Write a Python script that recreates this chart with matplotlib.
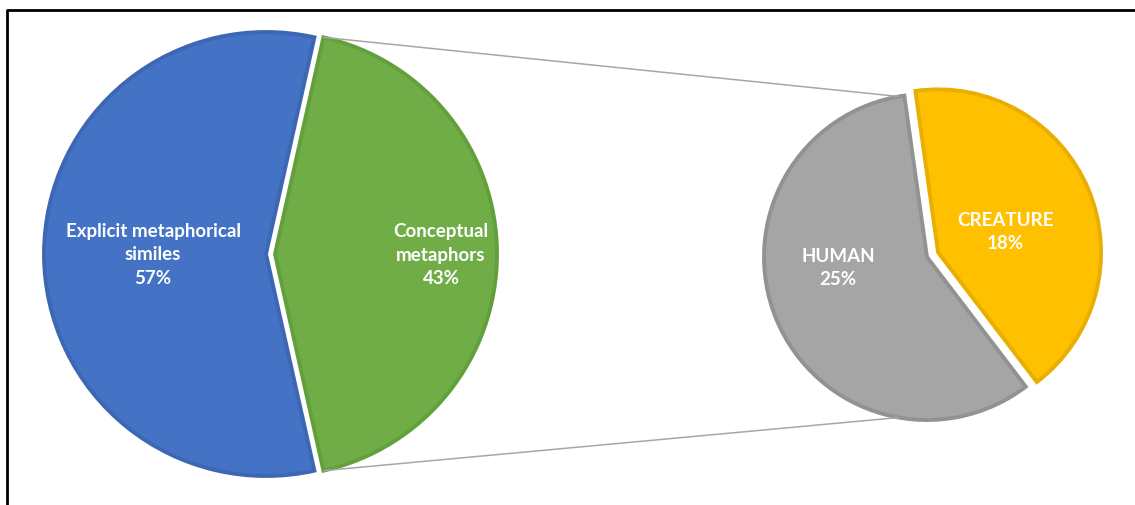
import numpy as np
import matplotlib.pyplot as plt
from matplotlib.patches import ConnectionPatch

# main pie
main_labels = ["Explicit metaphorical\nsimiles", "Conceptual\nmetaphors"]
main_values = [57, 43]
main_colors = ["#4472C4", "#70AD47"]
main_edges = ["#3D67B3", "#62A03B"]

# breakdown of "Conceptual metaphors"
sub_labels = ["HUMAN", "CREATURE"]
sub_values = [25, 18]
sub_colors = ["#A5A5A5", "#FFC000"]
sub_edges = ["#929292", "#E8AE00"]

W, H = 1135, 506
fig = plt.figure(figsize=(W / 100, H / 100), dpi=100)
ax = fig.add_axes([0, 0, 1, 1])

# left pie, green wedge pulled out to the right (explode is in data units here)
start = 180 * main_values[1] / sum(main_values)
w_main, _ = ax.pie(main_values, colors=main_colors, center=(266, 251), radius=222,
                   startangle=start, explode=[0, 9],
                   wedgeprops=dict(linewidth=2.8))
for w, ec in zip(w_main, main_edges):
    w.set_edgecolor(ec)

# right pie, yellow wedge pulled out
w_sub, _ = ax.pie(sub_values, colors=sub_colors, center=(927, 248), radius=163,
                  startangle=98, explode=[0, 12],
                  wedgeprops=dict(linewidth=2.8))
for w, ec in zip(w_sub, sub_edges):
    w.set_edgecolor(ec)

ax.set_xlim(0, W)
ax.set_ylim(0, H)
ax.set_aspect("equal")
ax.axis("off")

font = dict(family=["Lato", "DejaVu Sans"], fontsize=13.5, fontweight="bold",
            color="white", ha="center", va="center", linespacing=1.45)

ax.text(153, 251, f"{main_labels[0]}\n{main_values[0]}%", **font)
ax.text(441, 251, f"{main_labels[1]}\n{main_values[1]}%", **font)
ax.text(838, 238, f"{sub_labels[0]}\n{sub_values[0]}%", **font)
ax.text(1005, 274, f"{sub_labels[1]}\n{sub_values[1]}%", **font)

# connector lines from the green wedge to the second pie
g = w_main[1]
cx, cy = g.center
cs = w_sub[0].center
rs = w_sub[0].r
for ang_main, ang_sub in [(g.theta2, 100), (g.theta1, 260)]:
    p1 = (cx + g.r * np.cos(np.radians(ang_main)), cy + g.r * np.sin(np.radians(ang_main)))
    p2 = (cs[0] + rs * np.cos(np.radians(ang_sub)), cs[1] + rs * np.sin(np.radians(ang_sub)))
    con = ConnectionPatch(xyA=p1, coordsA=ax.transData, xyB=p2, coordsB=ax.transData,
                          color="#A6A6A6", linewidth=1.1)
    ax.add_artist(con)

# chart frame (only top and left edges are inside the picture)
ax.plot([7, 7, W + 5], [-5, H - 11, H - 11], color="black", linewidth=2,
        clip_on=False, solid_capstyle="projecting")

fig.savefig("out.png", dpi=100)
